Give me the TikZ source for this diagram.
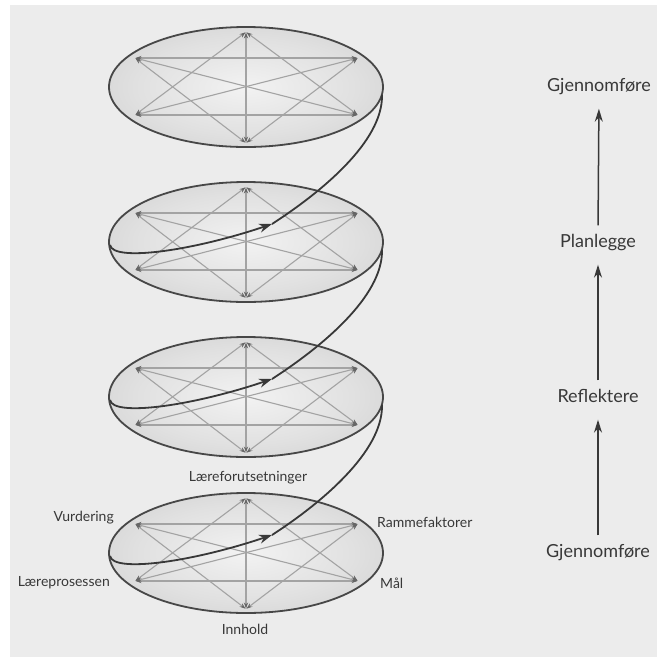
\documentclass[tikz,border=0pt]{standalone}
\usepackage{fontspec}
\setmainfont{Lato}
\usetikzlibrary{arrows.meta}
\definecolor{bg}{gray}{0.925}
\definecolor{ink}{gray}{0.22}
\definecolor{rim}{gray}{0.28}
\definecolor{web}{gray}{0.64}
\definecolor{webtip}{gray}{0.40}
\definecolor{shA}{gray}{0.95}
\definecolor{shB}{gray}{0.88}
\definecolor{shC}{gray}{0.80}
\definecolor{shD}{gray}{0.74}
\pgfdeclareradialshading{diskshade}{\pgfpoint{0bp}{0bp}}{color(0bp)=(shA); color(20bp)=(shB); color(38bp)=(shC); color(50bp)=(shD)}
\tikzset{
  diskfill/.style={shading=diskshade},
  diskrim/.style={draw=rim, line width=1.8pt},
  webline/.style={draw=web, line width=1.1pt,
    {Stealth[length=6pt,width=4.2pt,color=webtip]}-{Stealth[length=6pt,width=4.2pt,color=webtip]},
    shorten <=0.5pt, shorten >=0.5pt},
  spiral/.style={draw=ink, line width=1.8pt},
  spiralhead/.style={spiral, -{Stealth[length=13pt,width=9pt]}},
  flow/.style={draw=ink, line width=1.5pt, -{Stealth[length=13pt,width=8pt]}},
  biglabel/.style={font=\fontsize{18}{20}\selectfont, text=ink, inner sep=0pt, text height=13pt, text depth=4pt},
  smalllabel/.style={font=\fontsize{14}{16}\selectfont, text=ink, inner sep=0pt}
}
\begin{document}
\begin{tikzpicture}[x=1pt,y=-1pt]
\useasboundingbox (0,0) rectangle (657,657);
\fill[white] (0,0) rectangle (657,657);
\fill[bg] (10,5) rectangle (657,657);

% disks
\foreach \k/\cy in {1/553,2/397,3/242,4/87}{
  \begin{scope}[shift={(246,\cy)}]
    \coordinate (d\k-c) at (0,0);
    \coordinate (d\k-t) at (0,-55);
    \coordinate (d\k-b) at (0,56);
    \coordinate (d\k-ul) at (-111,-29);
    \coordinate (d\k-ur) at (112,-29);
    \coordinate (d\k-ll) at (-111,28);
    \coordinate (d\k-lr) at (112,28);
    \coordinate (d\k-start) at (-136,3);
    \coordinate (d\k-arr) at (26,-18);
    \coordinate (d\k-join) at (136,8);
    \path[diskfill] (d\k-c) ellipse [x radius=137, y radius=60];
    \draw[webline] (d\k-t) -- (d\k-ll);
    \draw[webline] (d\k-t) -- (d\k-lr);
    \draw[webline] (d\k-ll) -- (d\k-lr);
    \draw[webline] (d\k-b) -- (d\k-ul);
    \draw[webline] (d\k-b) -- (d\k-ur);
    \draw[webline] (d\k-ul) -- (d\k-ur);
    \draw[webline] (d\k-ul) -- (d\k-lr);
    \draw[webline] (d\k-ur) -- (d\k-ll);
    \draw[webline] (d\k-t) -- (d\k-b);
    \draw[diskrim] (d\k-c) ellipse [x radius=137, y radius=60];
  \end{scope}
}

% spiral
\foreach \k/\n in {1/2,2/3,3/4}{
  \draw[spiralhead] (d\k-start) .. controls +(3,17) and +(-80,27) .. (d\k-arr);
  \draw[spiral] (d\k-arr) .. controls +(48,-31) and +(1,47) .. (d\n-join);
}

% disk labels
\node[smalllabel] (lf) at (248,478) {Læreforutsetninger};
\node[smalllabel, anchor=east] (vu) at (114,518) {Vurdering};
\node[smalllabel, anchor=east] (lp) at (110,583) {Læreprosessen};
\node[smalllabel] (ih) at (245,629) {Innhold};
\node[smalllabel, anchor=west] (rf) at (377,522) {Rammefaktorer};
\node[smalllabel, anchor=west] (ml) at (380,583) {Mål};

% right column
\node[biglabel] (g1) at (598,553) {Gjennomføre};
\node[biglabel] (re) at (598,398) {Reflektere};
\node[biglabel] (pl) at (598,243) {Planlegge};
\node[biglabel] (g2) at (599,87) {Gjennomføre};
\draw[flow, shorten <=9pt, shorten >=13pt] (g1.north) -- (re.south);
\draw[flow, shorten <=9pt, shorten >=13pt] (re.north) -- (pl.south);
\draw[flow, shorten <=9pt, shorten >=13pt] (pl.north) -- (g2.south);
\end{tikzpicture}
\end{document}
